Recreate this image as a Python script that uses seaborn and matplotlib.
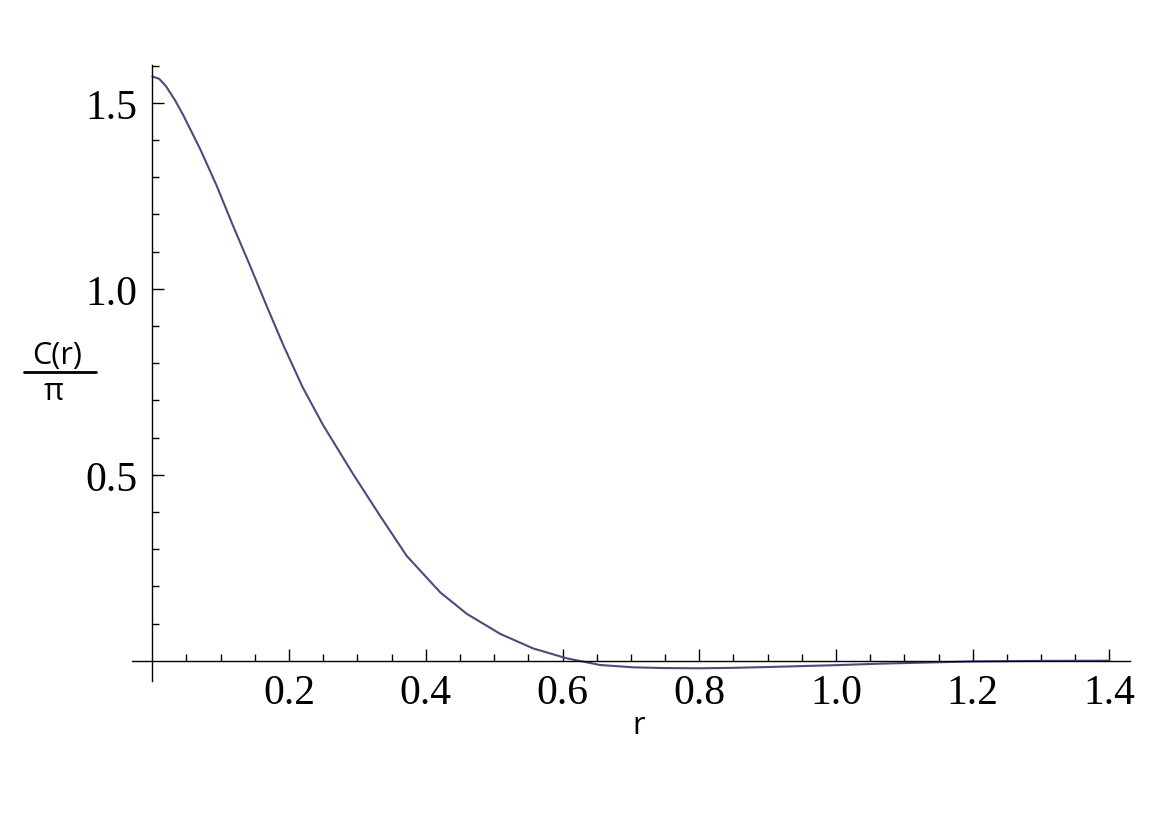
import matplotlib
matplotlib.use("Agg")
import matplotlib.pyplot as plt
import seaborn as sns
from matplotlib.lines import Line2D
from matplotlib.ticker import FixedLocator, FixedFormatter, NullFormatter

# values
R = [0.0, 0.01, 0.02, 0.033, 0.045, 0.07, 0.094, 0.118, 0.143, 0.167, 0.192,
     0.22, 0.25, 0.294, 0.333, 0.372, 0.421, 0.46, 0.509, 0.557, 0.606,
     0.655, 0.703, 0.75, 0.8, 0.85, 0.9, 1.0, 1.064, 1.2, 1.3, 1.4]
C_OVER_PI = [1.571, 1.565, 1.545, 1.508, 1.468, 1.376, 1.278, 1.170, 1.062,
             0.955, 0.847, 0.735, 0.633, 0.501, 0.390, 0.282, 0.184, 0.126,
             0.072, 0.033, 0.0065, -0.0116, -0.0178, -0.0198, -0.0204,
             -0.0192, -0.017, -0.012, -0.008, -0.002, -0.0005, 0.0]

X_MAJOR = [0.2, 0.4, 0.6, 0.8, 1.0, 1.2, 1.4]
X_LABELS = ["0.2", "0.4", "0.6", "0.8", "1.0", "1.2", "1.4"]
Y_MAJOR = [0.5, 1.0, 1.5]
Y_LABELS = ["0.5", "1.0", "1.5"]

W, H = 1166, 828

sns.set_style("white")
plt.rcParams["font.family"] = ["Liberation Serif", "DejaVu Serif"]

fig = plt.figure(figsize=(W / 100, H / 100), dpi=100)
ax = fig.add_axes([132 / W, 1 - 682.3 / H, (1130 - 132) / W, (682.3 - 66) / H])

sns.lineplot(x=R, y=C_OVER_PI, ax=ax, color="#4b4b7d", linewidth=1.5)

ax.set_xlim(-0.0297, 1.430)
ax.set_ylim(-0.0554, 1.602)

for side in ("top", "right"):
    ax.spines[side].set_visible(False)
for side in ("left", "bottom"):
    ax.spines[side].set_position(("data", 0))
    ax.spines[side].set_color("black")
    ax.spines[side].set_linewidth(1.0)

x_minor = [round(0.05 * i, 2) for i in range(1, 29) if i % 4 != 0]
y_minor = [round(0.1 * i, 1) for i in range(1, 17) if i % 5 != 0]

ax.xaxis.set_major_locator(FixedLocator(X_MAJOR))
ax.xaxis.set_major_formatter(FixedFormatter(X_LABELS))
ax.xaxis.set_minor_locator(FixedLocator(x_minor))
ax.xaxis.set_minor_formatter(NullFormatter())
ax.yaxis.set_major_locator(FixedLocator(Y_MAJOR))
ax.yaxis.set_major_formatter(FixedFormatter(Y_LABELS))
ax.yaxis.set_minor_locator(FixedLocator(y_minor))
ax.yaxis.set_minor_formatter(NullFormatter())

# seaborn's white style switches the ticks off, turn them back on
ax.tick_params(which="both", direction="in", color="black", width=1.0,
               bottom=True, left=True, top=False, right=False,
               labelsize=30, labelcolor="black")
ax.tick_params(which="major", length=8.6)
ax.tick_params(which="minor", length=5.0)
ax.tick_params(axis="x", pad=9)
ax.tick_params(axis="y", pad=11)
ax.set_xlabel("")
ax.set_ylabel("")

sans = ["Open Sans", "DejaVu Sans"]
fig.text(639 / W, 1 - 726 / H, "r", family=sans, fontsize=22,
         color="black", ha="center", va="center")
fig.text(57 / W, 1 - 356 / H, "C(r)", family=sans, fontsize=22,
         color="black", ha="center", va="center")
fig.text(54 / W, 1 - 392 / H, "π", family=sans, fontsize=22,
         color="black", ha="center", va="center")
fig.add_artist(Line2D([24 / W, 96 / W], [1 - 372.7 / H, 1 - 372.7 / H],
                      transform=fig.transFigure, color="black", linewidth=2.0))

fig.savefig("out.png", dpi=100)
